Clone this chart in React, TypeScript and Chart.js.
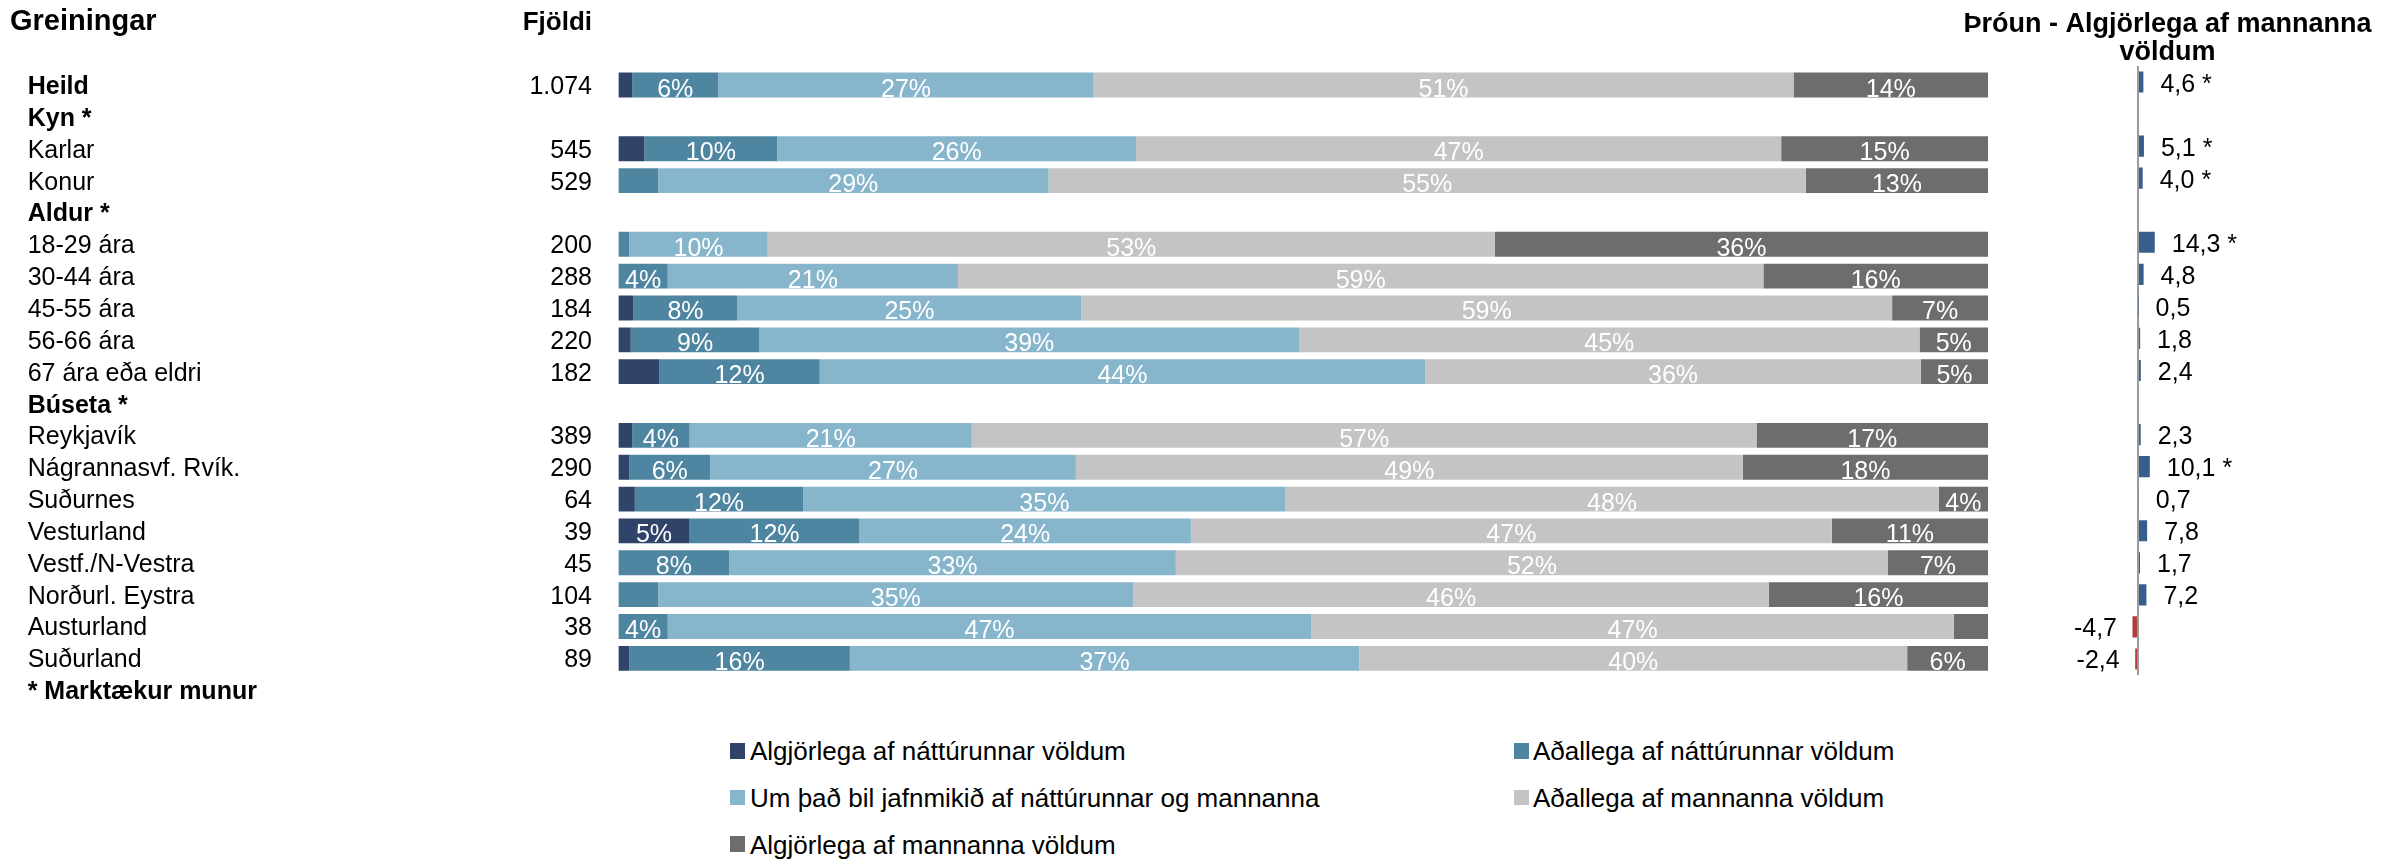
import React, { useEffect, useRef } from "react";
import { Chart, registerables } from "chart.js";

Chart.register(...registerables);

const FONT = "'Liberation Sans', Arial, Helvetica, sans-serif";

// ---------- data ----------
const categories = [
  "Heild",
  "Kyn *",
  "Karlar",
  "Konur",
  "Aldur *",
  "18-29 ára",
  "30-44 ára",
  "45-55 ára",
  "56-66 ára",
  "67 ára eða eldri",
  "Búseta *",
  "Reykjavík",
  "Nágrannasvf. Rvík.",
  "Suðurnes",
  "Vesturland",
  "Vestf./N-Vestra",
  "Norðurl. Eystra",
  "Austurland",
  "Suðurland",
  "* Marktækur munur",
];
const boldRows = ["Heild", "Kyn *", "Aldur *", "Búseta *", "* Marktækur munur"];
const counts = [
  "1.074", "", "545", "529", "", "200", "288", "184", "220", "182", "",
  "389", "290", "64", "39", "45", "104", "38", "89", "",
];

const seriesNames = [
  "Algjörlega af náttúrunnar völdum",
  "Aðallega af náttúrunnar völdum",
  "Um það bil jafnmikið af náttúrunnar og mannanna",
  "Aðallega af mannanna völdum",
  "Algjörlega af mannanna völdum",
];
const seriesColors = ["#2F4468", "#4E86A1", "#87B6CC", "#C4C4C4", "#6D6D6D"];

const algjNatt = [1.0, null, 1.9, 0, null, 0, 0, 1.1, 0.9, 3.0, null, 1.0, 0.8, 1.2, 5.2, 0, 0, 0, 0.8, null];
const adalNatt = [6.3, null, 9.7, 2.9, null, 0.8, 3.6, 7.6, 9.4, 11.7, null, 4.2, 5.9, 12.3, 12.4, 8.1, 2.9, 3.6, 16.1, null];
const jafnt = [27.4, null, 26.2, 28.5, null, 10.1, 21.2, 25.1, 39.4, 44.2, null, 20.6, 26.7, 35.2, 24.2, 32.6, 34.7, 47.0, 37.2, null];
const adalMann = [51.1, null, 47.1, 55.3, null, 53.1, 58.8, 59.2, 45.3, 36.2, null, 57.3, 48.7, 47.7, 46.8, 52.0, 46.4, 46.9, 40.0, null];
const algjMann = [14.2, null, 15.1, 13.3, null, 36.0, 16.4, 7.0, 5.0, 4.9, null, 16.9, 17.9, 3.6, 11.4, 7.3, 16.0, 2.5, 5.9, null];
const seriesValues = [algjNatt, adalNatt, jafnt, adalMann, algjMann];

const trendCategories = categories.slice(0, 19);
const trend = [4.6, null, 5.1, 4.0, null, 14.3, 4.8, 0.5, 1.8, 2.4, null, 2.3, 10.1, 0.7, 7.8, 1.7, 7.2, -4.7, -2.4];
const trendSig = [true, false, true, true, false, true, false, false, false, false, false, false, true, false, false, false, false, false, false];

const headerLeft = "Greiningar";
const headerCount = "Fjöldi";
const trendTitle = ["Þróun - Algjörlega af mannanna", "völdum"];

// ---------- component ----------
export default function App() {
  const leftRef = useRef<HTMLCanvasElement>(null);
  const rightRef = useRef<HTMLCanvasElement>(null);

  useEffect(() => {
    const leftText = {
      id: "leftText",
      afterDraw(chart: any) {
        const ctx = chart.ctx;
        const ys = chart.scales.y;
        ctx.save();
        ctx.fillStyle = "#000";
        ctx.textBaseline = "alphabetic";
        ctx.font = `bold 29px ${FONT}`;
        ctx.textAlign = "left";
        ctx.fillText(headerLeft, 10, 30);
        ctx.font = `bold 26px ${FONT}`;
        ctx.textAlign = "right";
        ctx.fillText(headerCount, 592, 29.5);
        categories.forEach((c, i) => {
          const y = ys.getPixelForValue(i);
          ctx.font = `${boldRows.includes(c) ? "bold " : ""}25px ${FONT}`;
          ctx.textAlign = "left";
          ctx.fillText(c, 27.7, y + 9);
          if (counts[i]) {
            ctx.font = `25px ${FONT}`;
            ctx.textAlign = "right";
            ctx.fillText(counts[i], 592, y + 9);
          }
        });
        ctx.restore();
      },
      afterDatasetsDraw(chart: any) {
        const ctx = chart.ctx;
        ctx.save();
        ctx.fillStyle = "#FFFFFF";
        ctx.font = `25px ${FONT}`;
        ctx.textAlign = "center";
        ctx.textBaseline = "alphabetic";
        chart.data.datasets.forEach((ds: any, d: number) => {
          const meta = chart.getDatasetMeta(d);
          meta.data.forEach((bar: any, i: number) => {
            const v = ds.data[i];
            if (v == null || v < 3.5) return;
            const p = bar.getProps(["x", "base", "y"], true);
            ctx.fillText(`${Math.round(v)}%`, (p.x + p.base) / 2, p.y + 11.5);
          });
        });
        ctx.restore();
      },
    };

    const left = new Chart(leftRef.current as HTMLCanvasElement, {
      type: "bar",
      data: {
        labels: categories,
        datasets: seriesValues.map((vals, k) => ({
          label: seriesNames[k],
          data: vals as any,
          backgroundColor: seriesColors[k],
          borderWidth: 0,
          barPercentage: 0.78,
          categoryPercentage: 1,
        })),
      },
      options: {
        indexAxis: "y",
        responsive: false,
        animation: false,
        events: [],
        layout: { padding: { left: 618.4, right: 7, top: 69.1, bottom: 13.9 } },
        plugins: { legend: { display: false }, tooltip: { enabled: false }, title: { display: false } },
        scales: {
          x: { stacked: true, min: 0, max: 100, display: false },
          y: { stacked: true, display: false },
        },
      },
      plugins: [leftText],
    } as any);

    const rightText = {
      id: "rightText",
      afterDraw(chart: any) {
        const ctx = chart.ctx;
        ctx.save();
        ctx.fillStyle = "#000";
        ctx.textBaseline = "alphabetic";
        ctx.font = `bold 27px ${FONT}`;
        ctx.textAlign = "center";
        ctx.fillText(trendTitle[0], 217.5, 32);
        ctx.fillText(trendTitle[1], 217.5, 60);
        ctx.font = `25px ${FONT}`;
        const meta = chart.getDatasetMeta(0);
        meta.data.forEach((bar: any, i: number) => {
          const v = trend[i];
          if (v == null) return;
          const p = bar.getProps(["x", "y"], true);
          const txt = v.toFixed(1).replace(".", ",") + (trendSig[i] ? " *" : "");
          if (v >= 0) {
            ctx.textAlign = "left";
            ctx.fillText(txt, p.x + 17, p.y + 9.5);
          } else {
            ctx.textAlign = "right";
            ctx.fillText(txt, p.x - 15.5, p.y + 9.5);
          }
        });
        ctx.restore();
      },
    };

    const right = new Chart(rightRef.current as HTMLCanvasElement, {
      type: "bar",
      data: {
        labels: trendCategories,
        datasets: [
          {
            label: trendTitle.join(" "),
            data: trend as any,
            backgroundColor: (c: any) => ((c.raw ?? 0) < 0 ? "#B03C3C" : "#385E8E"),
            borderWidth: 0,
            barPercentage: 0.66,
            categoryPercentage: 1,
          },
        ],
      },
      options: {
        indexAxis: "y",
        responsive: false,
        animation: false,
        events: [],
        layout: { padding: { left: 129.5, right: 198.5, top: 66, bottom: 45 } },
        plugins: { legend: { display: false }, tooltip: { enabled: false }, title: { display: false } },
        scales: {
          x: {
            min: -50,
            max: 50,
            ticks: { display: false, stepSize: 50 },
            border: { display: false },
            grid: {
              drawTicks: false,
              lineWidth: 2,
              color: (c: any) => (c.tick && c.tick.value === 0 ? "#9A9A9A" : "rgba(0,0,0,0)"),
            },
          },
          y: { display: false },
        },
      },
      plugins: [rightText],
    } as any);

    return () => {
      left.destroy();
      right.destroy();
    };
  }, []);

  const legendRowY = [750.8, 797.5, 844.2];
  const markerX = [730, 1514];
  const textX = [750, 1533];

  return (
    <div
      style={{
        position: "absolute",
        left: 0,
        top: 0,
        width: 2395,
        height: 859,
        background: "#fff",
        overflow: "hidden",
      }}
    >
      <canvas
        ref={leftRef}
        width={1995}
        height={720}
        style={{ position: "absolute", left: 0, top: 0, width: 1995, height: 720 }}
      />
      <canvas
        ref={rightRef}
        width={445}
        height={720}
        style={{ position: "absolute", left: 1950, top: 0, width: 445, height: 720 }}
      />
      {seriesNames.map((name, i) => {
        const col = i % 2;
        const row = Math.floor(i / 2);
        const cy = legendRowY[row];
        return (
          <React.Fragment key={name}>
            <div
              style={{
                position: "absolute",
                left: markerX[col],
                top: cy - 7.8,
                width: 15,
                height: 15.6,
                background: seriesColors[i],
              }}
            />
            <div
              style={{
                position: "absolute",
                left: textX[col],
                top: cy - 14.7,
                fontFamily: FONT,
                fontSize: 26,
                lineHeight: "30px",
                whiteSpace: "nowrap",
                color: "#000",
              }}
            >
              {name}
            </div>
          </React.Fragment>
        );
      })}
    </div>
  );
}
